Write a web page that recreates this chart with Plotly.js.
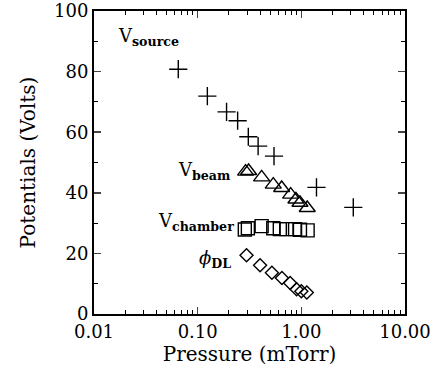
<!DOCTYPE html>
<html><head><meta charset="utf-8">
<script src="https://cdn.plot.ly/plotly-3.0.1.min.js"></script>
<style>html,body{margin:0;padding:0;background:#fff}#chart{width:434px;height:372px}</style>
</head><body><div id="chart"></div>
<script>
const sourceP = [0.065, 0.124, 0.190, 0.243, 0.308, 0.383, 0.545, 1.40, 3.17];
const sourceV = [80.8, 71.9, 66.7, 63.8, 58.5, 55.4, 52.1, 41.8, 35.2];
const beamP = [0.29, 0.31, 0.414, 0.536, 0.646, 0.789, 0.887, 0.97, 1.14];
const beamV = [47.0, 47.2, 45.1, 42.7, 41.6, 39.4, 37.8, 36.7, 35.0];
const chamberP = [0.285, 0.305, 0.414, 0.536, 0.62, 0.72, 0.87, 0.97, 1.15];
const chamberV = [27.9, 28.3, 29.0, 28.3, 28.0, 28.0, 28.0, 27.8, 27.6];
const dlP = [0.296, 0.40, 0.52, 0.65, 0.78, 0.90, 1.0, 1.13];
const dlV = [19.4, 16.1, 13.6, 11.9, 10.2, 8.2, 7.5, 7.1];
const xTickVals = [0.01, 0.1, 1, 10];
const xTickText = ['0.01', '0.10', '1.00', '10.00'];
const yTickVals = [0, 20, 40, 60, 80, 100];

const serif = 'DejaVu Serif, serif';
function tr(x, y, sym, size) {
  return {x: x, y: y, type: 'scatter', mode: 'markers', showlegend: false,
    marker: {symbol: sym, size: size, color: '#000', line: {color: '#000', width: 1.4}}};
}
const data = [
  tr(sourceP, sourceV, 'cross-thin', 13),
  tr(beamP, beamV, 'triangle-up-open', 14),
  tr(chamberP, chamberV, 'square-open', 13),
  tr(dlP, dlV, 'diamond-open', 10)
];
function ann(text, px, py) {
  return {text: text, xref: 'paper', yref: 'paper', x: (px - 94) / 311, y: (314 - py) / 303,
    xanchor: 'left', yanchor: 'middle', showarrow: false, font: {family: serif, size: 18, color: '#000'}};
}
const layout = {
  width: 434, height: 372, margin: {l: 94, r: 29, t: 11, b: 58},
  paper_bgcolor: '#fff', plot_bgcolor: '#fff',
  font: {family: serif, color: '#000', size: 18},
  xaxis: {type: 'log', range: [-2, 1], tickvals: xTickVals, ticktext: xTickText,
    ticks: 'inside', ticklen: 7, tickwidth: 1.5, showline: true, linewidth: 2, linecolor: '#000', mirror: 'ticks',
    showgrid: false, zeroline: false, tickfont: {family: serif, size: 18},
    minor: {dtick: 'D1', ticks: 'inside', ticklen: 4, tickwidth: 1, tickcolor: '#000', showgrid: false},
    title: {text: 'Pressure (mTorr)', font: {family: serif, size: 20}, standoff: 3}},
  yaxis: {range: [0, 100], tickvals: yTickVals,
    ticks: 'inside', ticklen: 7, tickwidth: 1.5, showline: true, linewidth: 2, linecolor: '#000', mirror: 'ticks',
    showgrid: false, zeroline: false, tickfont: {family: serif, size: 18},
    minor: {dtick: 10, ticks: 'inside', ticklen: 4, tickwidth: 1, tickcolor: '#000', showgrid: false},
    title: {text: 'Potentials (Volts)', font: {family: serif, size: 20}, standoff: 13}},
  annotations: [
    ann('V<sub><b>source</b></sub>', 116, 37),
    ann('V<sub><b>beam</b></sub>', 176, 171),
    ann('V<sub><b>chamber</b></sub>', 156, 222),
    ann('<i>ϕ</i><sub><b>DL</b></sub>', 197, 259)
  ]
};
Plotly.newPlot('chart', data, layout, {displayModeBar: false, staticPlot: true});
</script></body></html>
